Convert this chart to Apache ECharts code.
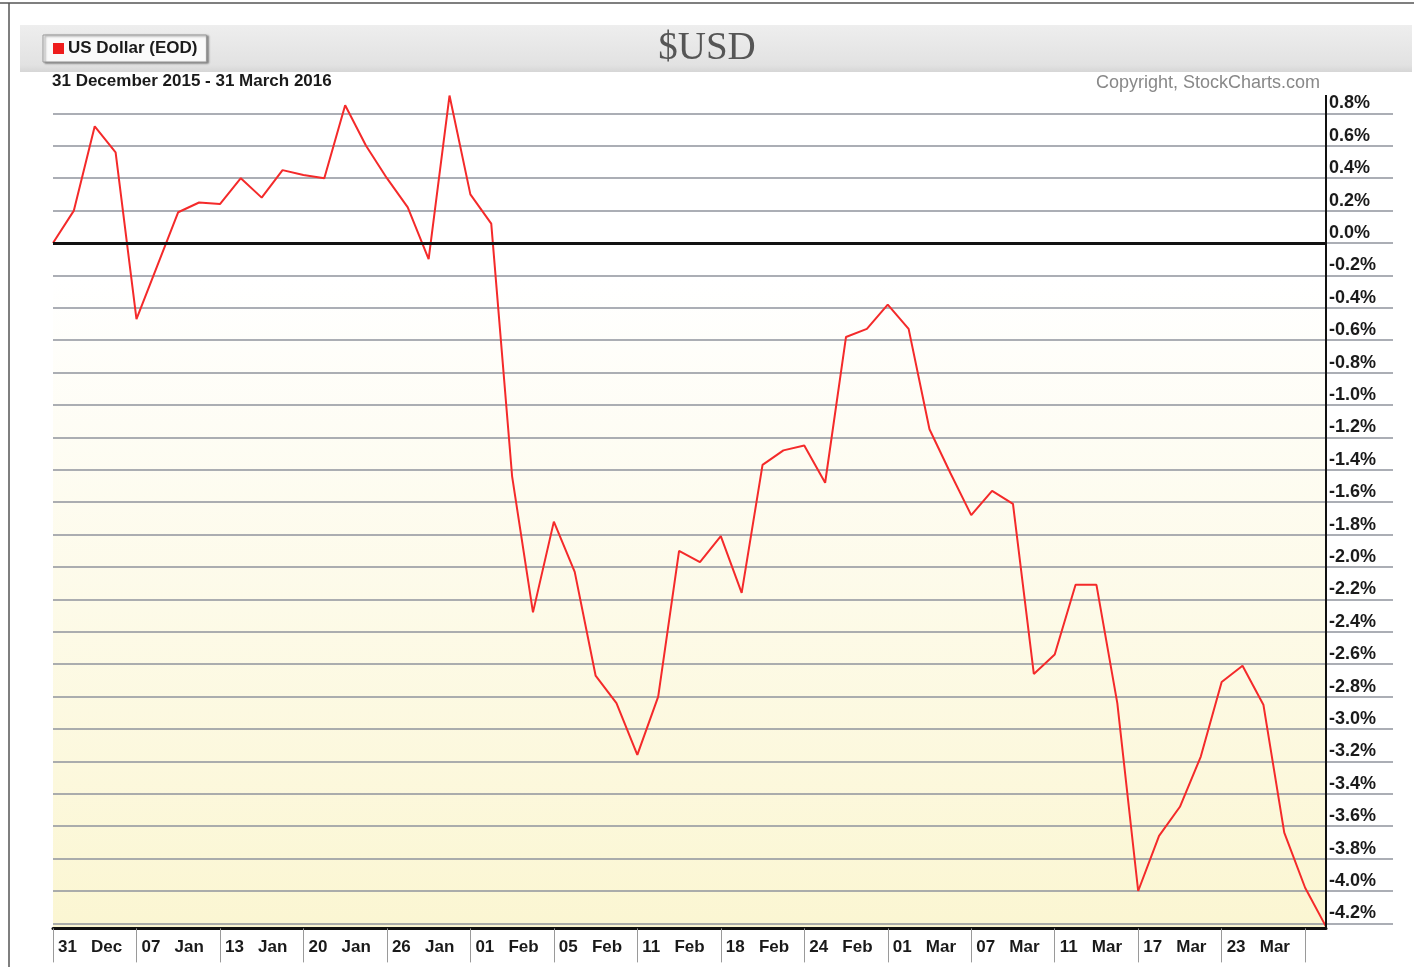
<!DOCTYPE html>
<html>
<head>
<meta charset="utf-8">
<title>$USD</title>
<script src="https://cdn.jsdelivr.net/npm/echarts@6/dist/echarts.min.js"></script>
<style>
  html, body { margin: 0; padding: 0; background: #fff; }
  #chart { width: 1414px; height: 967px; }
</style>
</head>
<body>
<div id="chart"></div>
<script>
// trading days, 31 Dec 2015 - 31 Mar 2016
var dates = [
  "31 Dec",
  "04 Jan", "05 Jan", "06 Jan", "07 Jan", "08 Jan", "11 Jan", "12 Jan", "13 Jan", "14 Jan", "15 Jan",
  "19 Jan", "20 Jan", "21 Jan", "22 Jan", "25 Jan", "26 Jan", "27 Jan", "28 Jan", "29 Jan",
  "01 Feb", "02 Feb", "03 Feb", "04 Feb", "05 Feb", "08 Feb", "09 Feb", "10 Feb", "11 Feb", "12 Feb",
  "16 Feb", "17 Feb", "18 Feb", "19 Feb", "22 Feb", "23 Feb", "24 Feb", "25 Feb", "26 Feb", "29 Feb",
  "01 Mar", "02 Mar", "03 Mar", "04 Mar", "07 Mar", "08 Mar", "09 Mar", "10 Mar", "11 Mar",
  "14 Mar", "15 Mar", "16 Mar", "17 Mar", "18 Mar", "21 Mar", "22 Mar", "23 Mar", "24 Mar",
  "28 Mar", "29 Mar", "30 Mar", "31 Mar"
];
// % change vs 31 Dec
var usdPct = [
  0, 0.20, 0.72, 0.56, -0.47, -0.14, 0.19, 0.25, 0.24, 0.40,
  0.28, 0.45, 0.42, 0.40, 0.85, 0.60, 0.40, 0.22, -0.10, 0.91,
  0.30, 0.12, -1.44, -2.28, -1.72, -2.03, -2.67, -2.84, -3.16, -2.80,
  -1.90, -1.97, -1.81, -2.16, -1.37, -1.28, -1.25, -1.48, -0.58, -0.53,
  -0.38, -0.53, -1.15, -1.42, -1.68, -1.53, -1.61, -2.66, -2.54, -2.11,
  -2.11, -2.84, -4.00, -3.66, -3.48, -3.17, -2.71, -2.61, -2.85, -3.64,
  -3.98, -4.22
];
var yMin = -4.2;
var yMax = 0.8;
var yStep = 0.2;
var labelEvery = 4;
var lastLabelIndex = 56;

var sans = "'Liberation Sans', Arial, sans-serif";
var chart = echarts.init(document.getElementById("chart"));

var option = {
  animation: false,
  backgroundColor: "#fff",
  textStyle: { fontFamily: sans },
  graphic: [
    // outer frame
    { type: "line", z: -5, shape: { x1: 0, y1: 3, x2: 1414, y2: 3 }, style: { stroke: "#555", lineWidth: 1.5 } },
    { type: "line", z: -5, shape: { x1: 9, y1: 3, x2: 9, y2: 967 }, style: { stroke: "#555", lineWidth: 1.5 } },
    // header band
    {
      type: "rect", z: -5,
      shape: { x: 20, y: 25, width: 1392, height: 47 },
      style: {
        fill: new echarts.graphic.LinearGradient(0, 0, 0, 1, [
          { offset: 0, color: "#eeeeee" },
          { offset: 0.85, color: "#e2e2e2" },
          { offset: 1, color: "#d6d6d6" }
        ])
      }
    },
    // plot background
    {
      type: "rect", z: -5,
      shape: { x: 53, y: 95, width: 1273, height: 833 },
      style: {
        fill: new echarts.graphic.LinearGradient(0, 0, 0, 1, [
          { offset: 0, color: "#ffffff" },
          { offset: 0.22, color: "#ffffff" },
          { offset: 1, color: "#fbf6d2" }
        ])
      }
    },
    // right axis line
    { type: "line", z: 5, shape: { x1: 1326, y1: 95, x2: 1326, y2: 929 }, style: { stroke: "#111", lineWidth: 2 } }
  ],
  title: [
    {
      text: "$USD",
      left: "center",
      top: 24,
      textStyle: { fontFamily: "'Liberation Serif', 'Times New Roman', serif", fontSize: 39, fontWeight: "normal", color: "#555" }
    },
    {
      text: "31 December 2015 - 31 March 2016",
      left: 47,
      top: 68,
      textStyle: { fontSize: 17, fontWeight: "bold", color: "#1a1a1a" }
    },
    {
      text: "Copyright, StockCharts.com",
      right: 89,
      top: 69,
      textStyle: { fontSize: 18, fontWeight: "normal", color: "#888" }
    }
  ],
  legend: {
    left: 43,
    top: 35,
    padding: [5, 9, 5, 10],
    itemWidth: 11,
    itemHeight: 11,
    itemGap: 6,
    icon: "rect",
    backgroundColor: "#fafafa",
    borderColor: "#999",
    borderWidth: 1,
    shadowColor: "rgba(0,0,0,0.45)",
    shadowOffsetX: 2,
    shadowOffsetY: 1,
    shadowBlur: 2,
    textStyle: { fontSize: 17, fontWeight: "bold", color: "#1a1a1a", padding: [0, 0, 0, -1] },
    data: ["US Dollar (EOD)"]
  },
  grid: {
    left: 53,
    right: 88,
    top: 113.4,
    bottom: 43.6,
    containLabel: false
  },
  xAxis: {
    type: "category",
    boundaryGap: false,
    data: dates,
    offset: 5,
    axisLine: { show: true, onZero: false, lineStyle: { color: "#111", width: 3 } },
    axisTick: {
      show: true,
      length: 34,
      interval: function (index) { return index % labelEvery === 0; },
      lineStyle: { color: "#9a9a9a", width: 1 }
    },
    axisLabel: {
      interval: function (index) { return index % labelEvery === 0 && index <= lastLabelIndex; },
      align: "left",
      margin: 10,
      padding: [0, 0, 0, 5],
      fontSize: 17,
      fontWeight: "bold",
      color: "#1a1a1a",
      formatter: function (v) { return v.replace(" ", "   "); }
    },
    splitLine: { show: false }
  },
  yAxis: {
    type: "value",
    position: "right",
    min: yMin,
    max: yMax,
    interval: yStep,
    axisLine: { show: false },
    axisTick: {
      show: true,
      inside: false,
      length: 67,
      lineStyle: { color: "#8f939d", width: 1.6 }
    },
    axisLabel: {
      margin: 3,
      align: "left",
      verticalAlign: "bottom",
      lineHeight: 18,
      padding: [0, 0, 1, 0],
      fontSize: 18,
      fontWeight: "bold",
      color: "#1a1a1a",
      formatter: function (v) {
        if (Math.abs(v) < 1e-9) v = 0;
        return v.toFixed(1) + "%";
      }
    },
    splitLine: {
      show: true,
      lineStyle: { type: "solid", color: "#8f939d", width: 1.6 }
    }
  },
  series: [
    {
      name: "US Dollar (EOD)",
      type: "line",
      data: usdPct,
      symbol: "none",
      clip: false,
      z: 3,
      itemStyle: { color: "#ee1c1c" },
      lineStyle: { color: "#f42a2a", width: 2 },
      markLine: {
        silent: true,
        symbol: "none",
        label: { show: false },
        lineStyle: { color: "#111", width: 3, type: "solid" },
        data: [{ yAxis: 0 }]
      }
    }
  ]
};
chart.setOption(option);
</script>
</body>
</html>
